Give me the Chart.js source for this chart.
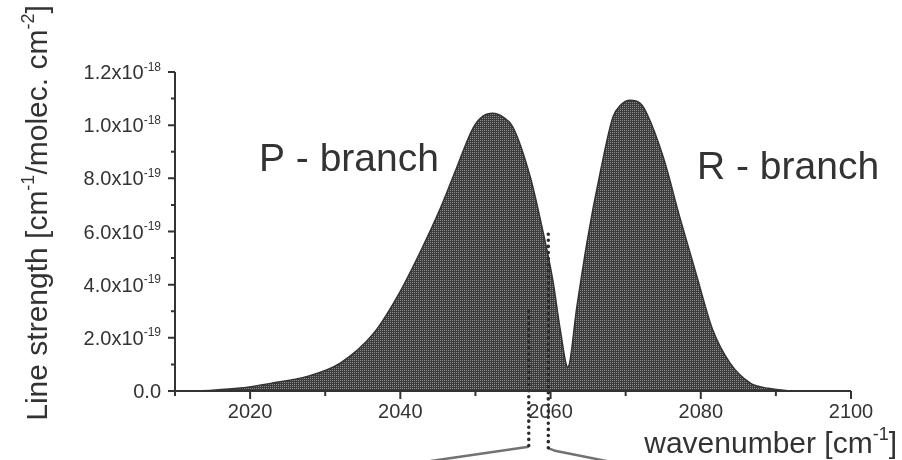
<!DOCTYPE html>
<html>
<head>
<meta charset="utf-8">
<script src="https://cdn.jsdelivr.net/npm/chart.js@4.4.1/dist/chart.umd.min.js"></script>
<style>
  html, body { margin: 0; padding: 0; background: #fff; }
  #wrap { width: 902px; height: 460px; position: relative; }
</style>
</head>
<body>
<div id="wrap"><canvas id="bandChart"></canvas></div>
<script>
// band contour (strength in units of 1e-19 cm-1/(molec cm-2))
const wavenumber = [2012, 2015, 2018.7, 2023.0, 2027.6, 2032.0, 2036.4, 2039.6, 2042.6, 2045.3,
  2047.5, 2049.7, 2051.0, 2052.3, 2053.7, 2055.0, 2057.3, 2058.6, 2060.3, 2061.3,
  2062.3, 2063.5, 2064.9, 2066.6, 2068.3, 2069.3, 2070.6, 2071.9, 2072.8, 2075.0,
  2077.2, 2079.5, 2081.6, 2083.9, 2086.6, 2089.0, 2092];
const strength = [0, 0.03, 0.11, 0.30, 0.55, 1.05, 2.15, 3.55, 5.2, 6.85,
  8.4, 9.9, 10.34, 10.45, 10.30, 9.92, 8.05, 6.5, 4.17, 2.29,
  0.90, 3.16, 5.68, 8.20, 10.30, 10.75, 10.94, 10.83, 10.45, 8.80,
  6.54, 4.29, 2.29, 1.05, 0.30, 0.10, 0];

// zoom markers below the axis (dotted drops + leader lines)
const dropLeftX = [2057.1, 2057.1];
const dropLeftY = [3.0, -2.1];
const dropRightX = [2059.7, 2059.7];
const dropRightY = [5.9, -2.15];
const leaderLeftX = [2057.1, 2041.2];
const leaderLeftY = [-2.1, -2.75];
const leaderRightX = [2059.7, 2060.6, 2069.5];
const leaderRightY = [-2.15, -2.25, -2.75];

// axes
const xMajor = [2020, 2040, 2060, 2080, 2100];
const xMinor = [2010, 2030, 2050, 2070, 2090];
const yMajor = [0, 2, 4, 6, 8, 10, 12];
const yMinor = [1, 3, 5, 7, 9, 11];
const yTickLabels = ['0.0', '2.0x10^{-19}', '4.0x10^{-19}', '6.0x10^{-19}', '8.0x10^{-19}', '1.0x10^{-18}', '1.2x10^{-18}'];
const xTitle = 'wavenumber [cm^{-1}]';
const yTitle = 'Line strength [cm^{-1}/molec. cm^{-2}]';
const branchLabels = ['P - branch', 'R - branch'];

const ink = '#333333';
const font = '"Liberation Sans", Arial, sans-serif';

function toPoints(xs, ys) {
  return xs.map((x, i) => ({ x: x, y: ys[i] }));
}

// halftone look of the scanned fill
function stipple() {
  const c = document.createElement('canvas');
  c.width = 2; c.height = 2;
  const g = c.getContext('2d');
  g.fillStyle = '#3c3c3c';
  g.fillRect(0, 0, 2, 2);
  g.fillStyle = '#8e8e8e';
  g.fillRect(0, 0, 1, 1);
  return g.createPattern(c, 'repeat');
}

function parseRich(s) {
  const out = [];
  const re = /\^\{([^}]*)\}/g;
  let last = 0, m;
  while ((m = re.exec(s))) {
    if (m.index > last) out.push({ t: s.slice(last, m.index), sup: false });
    out.push({ t: m[1], sup: true });
    last = re.lastIndex;
  }
  if (last < s.length) out.push({ t: s.slice(last), sup: false });
  return out;
}

function drawRich(ctx, s, x, y, size, align) {
  const parts = parseRich(s);
  const supSize = Math.round(size * 0.6);
  let w = 0;
  parts.forEach(p => {
    ctx.font = `${p.sup ? supSize : size}px ${font}`;
    p.w = ctx.measureText(p.t).width;
    w += p.w;
  });
  let cx = align === 'right' ? x - w : align === 'center' ? x - w / 2 : x;
  ctx.textAlign = 'left';
  ctx.textBaseline = 'alphabetic';
  parts.forEach(p => {
    ctx.font = `${p.sup ? supSize : size}px ${font}`;
    ctx.fillText(p.t, cx, p.sup ? y - size * 0.42 : y);
    cx += p.w;
  });
}

const axisArt = {
  id: 'axisArt',
  afterDraw(chart) {
    const { ctx, chartArea: a, scales: { x, y } } = chart;
    ctx.save();
    ctx.strokeStyle = ink;
    ctx.fillStyle = ink;
    ctx.lineWidth = 2;
    ctx.beginPath();
    ctx.moveTo(a.left, a.top);
    ctx.lineTo(a.left, a.bottom + 1);
    ctx.moveTo(a.left - 3, a.bottom);
    ctx.lineTo(a.right, a.bottom);
    yMajor.forEach(v => { const p = y.getPixelForValue(v); ctx.moveTo(a.left - 7, p); ctx.lineTo(a.left, p); });
    yMinor.forEach(v => { const p = y.getPixelForValue(v); ctx.moveTo(a.left - 4, p); ctx.lineTo(a.left, p); });
    xMajor.forEach(v => { const p = x.getPixelForValue(v); ctx.moveTo(p, a.bottom); ctx.lineTo(p, a.bottom + 8); });
    xMinor.forEach(v => { const p = x.getPixelForValue(v); ctx.moveTo(p, a.bottom); ctx.lineTo(p, a.bottom + 5); });
    ctx.stroke();

    yMajor.forEach((v, i) => drawRich(ctx, yTickLabels[i], a.left - 14, y.getPixelForValue(v) + 7, 20, 'right'));
    xMajor.forEach(v => drawRich(ctx, String(v), x.getPixelForValue(v), a.bottom + 27, 20, 'center'));

    drawRich(ctx, xTitle, 897, 453, 30, 'right');
    ctx.save();
    ctx.translate(47, 213);
    ctx.rotate(-Math.PI / 2);
    drawRich(ctx, yTitle, 0, 0, 30, 'center');
    ctx.restore();

    drawRich(ctx, branchLabels[0], 259, 171, 39, 'left');
    drawRich(ctx, branchLabels[1], 697, 179, 39, 'left');
    ctx.restore();
  }
};

const dotted = {
  type: 'line', showLine: true, pointRadius: 0, clip: false, order: 1,
  borderColor: '#2a2a2a', borderWidth: 3.5, borderDash: [0.1, 6], borderCapStyle: 'round', fill: false
};
const leader = {
  type: 'line', showLine: true, pointRadius: 0, clip: false, order: 1,
  borderColor: '#727272', borderWidth: 2.5, fill: false
};

new Chart(document.getElementById('bandChart'), {
  type: 'line',
  data: {
    datasets: [
      {
        label: 'Line strength',
        data: toPoints(wavenumber, strength),
        borderColor: '#333',
        borderWidth: 1.5,
        backgroundColor: stipple(),
        fill: 'origin',
        pointRadius: 0,
        cubicInterpolationMode: 'monotone',
        order: 2
      },
      Object.assign({ data: toPoints(dropLeftX, dropLeftY) }, dotted),
      Object.assign({ data: toPoints(dropRightX, dropRightY) }, dotted),
      Object.assign({ data: toPoints(leaderLeftX, leaderLeftY) }, leader),
      Object.assign({ data: toPoints(leaderRightX, leaderRightY) }, leader)
    ]
  },
  options: {
    responsive: true,
    maintainAspectRatio: false,
    animation: false,
    layout: { padding: { left: 0, top: 72, right: 51, bottom: 0 } },
    plugins: { legend: { display: false }, tooltip: { enabled: false } },
    scales: {
      x: {
        type: 'linear', min: 2010, max: 2100,
        grid: { display: false }, border: { display: false },
        ticks: { display: false },
        afterFit(scale) { scale.height = 69; }
      },
      y: {
        min: 0, max: 12,
        grid: { display: false }, border: { display: false },
        ticks: { display: false },
        afterFit(scale) { scale.width = 175; }
      }
    }
  },
  plugins: [axisArt]
});
</script>
</body>
</html>
